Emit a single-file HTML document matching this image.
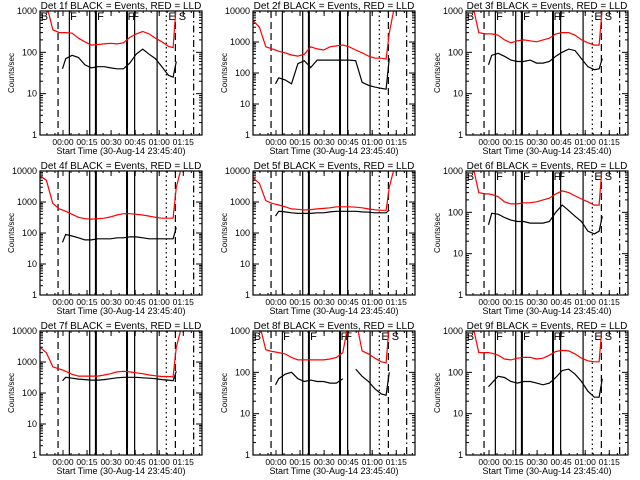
<!DOCTYPE html>
<html><head><meta charset="utf-8"><style>
html,body{margin:0;padding:0;background:#fff;}
svg{display:block;}
text{font-family:"Liberation Sans",sans-serif;fill:#000;}
</style></head><body>
<svg id="fig" width="640" height="480" viewBox="0 0 640 480" xmlns="http://www.w3.org/2000/svg"></svg>
<script>
// Shared time grid (minutes after 23:45:40)
const times = [0,4,8,12,14,16,20,24,28,32,36,40,44,48,52,56,60,64,68,72,76,80,83,85,88,101];
const detNames = ["1f","2f","3f","4f","5f","6f","7f","8f","9f"];
const yMaxes = [1000,10000,1000,10000,10000,1000,10000,1000,1000];
const redSeries = [
 [2000,1500,350,300,300,300,290,220,180,150,155,160,165,160,170,230,280,320,280,220,180,140,130,1500,3000,3000],
 [5000,3000,700,600,550,500,450,380,350,400,700,600,550,700,750,800,700,550,450,350,300,300,280,2000,12000,12000],
 [2000,1500,300,280,280,280,260,200,170,190,200,190,180,200,220,280,300,300,260,200,170,150,150,1200,3000,3000],
 [7000,5000,900,600,550,500,400,320,290,280,290,300,330,380,420,420,400,380,350,320,300,300,300,3000,12000,12000],
 [6000,4000,1100,900,850,800,700,600,580,550,570,600,620,650,700,700,700,680,650,600,560,540,540,3000,12000,12000],
 [2000,1500,300,280,280,270,240,180,160,160,170,170,180,200,220,280,330,300,250,210,180,150,150,1500,3000,3000],
 [3000,2000,700,600,550,500,400,350,350,350,350,380,420,480,500,480,450,420,380,360,340,340,330,3000,12000,12000],
 [2000,1500,350,320,310,300,280,230,200,200,200,200,200,210,230,300,2000,2000,330,280,220,180,170,1500,3000,3000],
 [2000,1500,300,300,300,290,260,210,200,220,230,230,210,220,260,320,340,330,280,220,190,180,180,1500,3000,3000]
];
const blackSeries = [
 [null,null,null,null,40,70,85,75,50,42,45,45,42,40,40,55,90,120,90,70,45,28,25,60,null,null],
 [null,null,null,null,45,70,60,45,200,250,150,260,260,260,260,260,260,250,50,40,35,32,30,300,null,null],
 [null,null,null,null,50,85,95,80,65,60,60,65,55,55,60,80,100,120,110,70,45,38,40,70,null,null],
 [null,null,null,null,50,90,80,70,60,60,65,65,65,70,70,75,75,70,65,65,65,65,65,150,null,null],
 [null,null,null,null,350,500,480,450,430,430,430,450,450,480,500,500,500,500,480,470,450,450,450,550,null,null],
 [null,null,null,null,50,95,90,75,65,60,60,55,55,55,60,100,150,110,80,60,35,30,35,80,null,null],
 [null,null,null,null,250,320,300,280,270,260,260,270,290,310,320,320,320,310,300,290,270,260,250,500,null,null],
 [null,null,null,null,50,70,90,100,70,60,65,60,60,55,55,70,null,120,80,60,40,30,28,100,null,null],
 [null,null,null,null,45,55,80,75,60,55,60,60,55,50,55,75,110,120,90,60,35,25,25,70,null,null]
];
const tickLabels = ["00:00","00:15","00:30","00:45","01:00","01:15"];
const tickTimes = [14.33,29.33,44.33,59.33,74.33,89.33];
const markerTimes = [11.25,18.3,31,34.6,35.1,54,54.5,59,73,78.75,84.4,95.8];
const markerStyles = ["dash","solid","solid","solid","solid","solid","solid","solid","solid","dot","dash","dashdot"];
const letterLabels = ["B","F","F","F","F","E","S"];
const letterTimes = [0.5,18.8,35.6,54.6,57.5,80,86.5];

const NS="http://www.w3.org/2000/svg";
const fig=document.getElementById('fig');
function mk(tag,attrs,parent){const e=document.createElementNS(NS,tag);for(const k in attrs)e.setAttribute(k,attrs[k]);parent.appendChild(e);return e;}

for(let p=0;p<9;p++){
  const ox=(p%3)*213, oy=Math.floor(p/3)*160;
  const L=ox+40,R=ox+202,T=oy+11,B=oy+135;
  const tMax=101;
  const xS=t=>L+(t/tMax)*(R-L);
  const ymax=yMaxes[p];
  const dec=Math.log10(ymax);
  const yS=v=>B-(Math.log10(v)/dec)*(B-T);
  const g=mk('g',{},fig);
  
  
  const clipId='c'+p;
  const cp=mk('clipPath',{id:clipId},g);
  mk('rect',{x:L,y:T,width:R-L,height:B-T},cp);
  // title
  const ti=mk('text',{x:ox+121,y:oy+9,'font-size':'10','text-anchor':'middle'},g);
  ti.textContent='Det '+detNames[p]+' BLACK = Events, RED = LLD';
  
  
  // y label
  const yl=mk('text',{x:0,y:0,'font-size':'8','text-anchor':'middle',transform:`translate(${ox+14},${oy+73}) rotate(-90)`},g);
  yl.textContent='Counts/sec';
  
  
  // x label
  const xl=mk('text',{x:ox+121,y:oy+154,'font-size':'9','text-anchor':'middle'},g);
  xl.textContent='Start Time (30-Aug-14 23:45:40)';
  
  
  // y ticks
  for(let d=0;d<=dec;d++){
    const v=Math.pow(10,d),y=yS(v);
    mk('line',{x1:L,x2:L+6,y1:y,y2:y,stroke:'#000'},g);
    mk('line',{x1:R-6,x2:R,y1:y,y2:y,stroke:'#000'},g);
    const lb=mk('text',{x:L-3,y:y+3,'font-size':'9','text-anchor':'end'},g);
    lb.textContent=String(v);
    
    
    if(d<dec){for(let m=2;m<10;m++){const ym=yS(v*m);
      mk('line',{x1:L,x2:L+3,y1:ym,y2:ym,stroke:'#000'},g);
      mk('line',{x1:R-3,x2:R,y1:ym,y2:ym,stroke:'#000'},g);}}
  }
  // x ticks
  tickTimes.forEach((t,i)=>{const x=xS(t);
    mk('line',{x1:x,x2:x,y1:B,y2:B-5,stroke:'#000'},g);
    mk('line',{x1:x,x2:x,y1:T,y2:T+5,stroke:'#000'},g);
    const lb=mk('text',{x:x,y:B+10,'font-size':'8.5','text-anchor':'middle'},g);
    lb.textContent=tickLabels[i];
    
    
  });
  for(let t=4.33;t<tMax;t+=5){const x=xS(t);
    mk('line',{x1:x,x2:x,y1:B,y2:B-2,stroke:'#000'},g);
    mk('line',{x1:x,x2:x,y1:T,y2:T+2,stroke:'#000'},g);}
  // marker lines
  markerTimes.forEach((t,i)=>{const x=xS(t);const st=markerStyles[i];
    const a={x1:x,x2:x,y1:T,y2:B,stroke:'#000','stroke-width':1.2};
    if(st==='dash')a['stroke-dasharray']='7,4';
    if(st==='dot')a['stroke-dasharray']='1.5,3';
    if(st==='dashdot')a['stroke-dasharray']='7,3,1.5,3';
    const ln=mk('line',a,g);
    
    
  });
  if(ymax===1000){
    letterLabels.forEach((s,i)=>{const lt=mk('text',{x:xS(letterTimes[i]),y:T+9,'font-size':'11'},g);
      lt.textContent=s;
      
      });
  }
  // series
  function path(vals){let d='',pen=false;
    vals.forEach((v,i)=>{if(v==null){pen=false;return;}
      d+=(pen?'L':'M')+xS(times[i]).toFixed(1)+','+yS(v).toFixed(1);pen=true;});
    return d;}
  const rp=mk('path',{d:path(redSeries[p]),fill:'none',stroke:'#ff0000','stroke-width':1.2,'clip-path':`url(#${clipId})`},g);
  
  
  const bp=mk('path',{d:path(blackSeries[p]),fill:'none',stroke:'#000','stroke-width':1.2,'clip-path':`url(#${clipId})`},g);
  
  
  // frame
  const fr=mk('rect',{x:L,y:T,width:R-L,height:B-T,fill:'none',stroke:'#000','stroke-width':1.2},g);
  
  
}
</script>
</body></html>
